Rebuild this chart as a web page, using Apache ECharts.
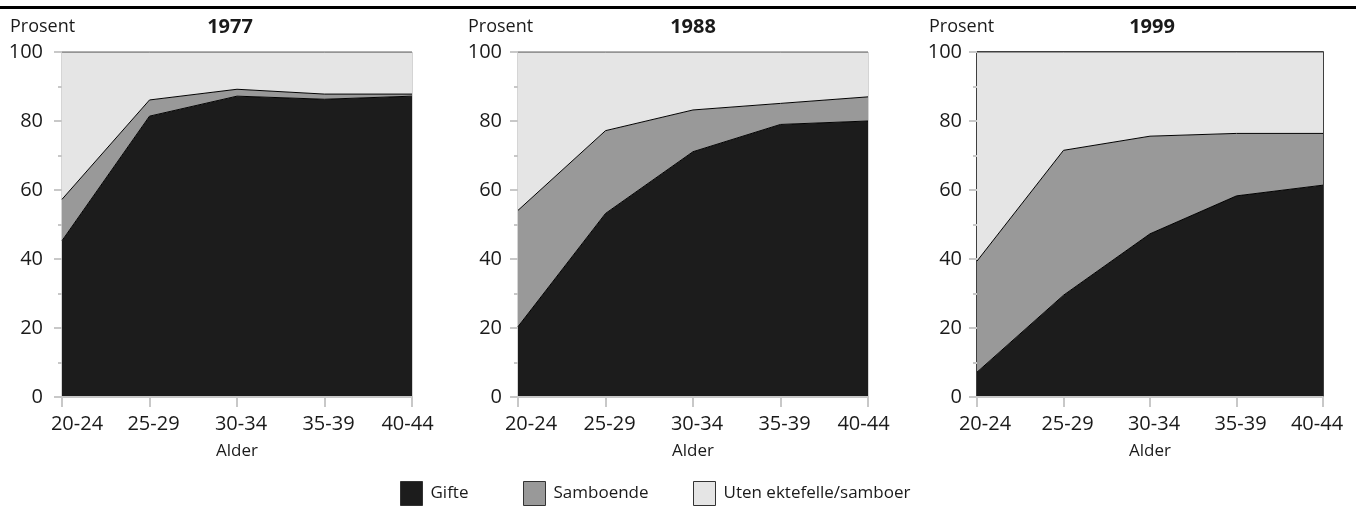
<!DOCTYPE html>
<html>
<head>
<meta charset="utf-8">
<title>Gifte og samboende etter alder</title>
<script src="https://cdn.jsdelivr.net/npm/echarts@6/dist/echarts.min.js"></script>
<style>
  html, body { margin: 0; padding: 0; background: #fff; }
  #chart { width: 1356px; height: 507px; }
</style>
</head>
<body>
<div id="chart"></div>
<script>
  // aldersgrupper (x-akse)
  var ageGroups = ['20-24', '25-29', '30-34', '35-39', '40-44'];
  var years = ['1977', '1988', '1999'];

  // prosent, lest av figuren
  var gifte1977 = [45.3, 81.4, 87.2, 86.3, 87.2];
  var samboende1977 = [12.0, 4.7, 2.0, 1.5, 0.6];
  var uten1977 = [42.7, 13.9, 10.8, 12.2, 12.2];

  var gifte1988 = [20.4, 53.2, 71.1, 79.0, 80.0];
  var samboende1988 = [33.7, 24.0, 12.1, 6.1, 7.0];
  var uten1988 = [45.9, 22.8, 16.8, 14.9, 13.0];

  var gifte1999 = [7.2, 29.5, 47.3, 58.3, 61.4];
  var samboende1999 = [32.2, 42.0, 28.3, 18.1, 15.0];
  var uten1999 = [60.6, 28.5, 24.4, 23.6, 23.6];

  var panels = [
    { gifte: gifte1977, samboende: samboende1977, uten: uten1977 },
    { gifte: gifte1988, samboende: samboende1988, uten: uten1988 },
    { gifte: gifte1999, samboende: samboende1999, uten: uten1999 }
  ];

  var font = 'Open Sans';
  var textColor = '#1a1a1a';
  var tickColor = '#c8c8c8';
  var colors = { gifte: '#1c1c1c', samboende: '#999999', uten: '#e5e5e5' };

  // plassering av de tre diagrammene
  var grids = [
    { left: 62, top: 52, width: 350, height: 345, borderColor: '#aaaaaa', borderWidth: 1 },
    { left: 518, top: 52, width: 350, height: 345, borderColor: '#aaaaaa', borderWidth: 1 },
    { left: 977, top: 52, width: 346, height: 345, borderColor: '#000000', borderWidth: 1.5 }
  ];
  var yLabelMargin = [19, 16, 15];
  var firstPad = [30, 26, 16];
  var lastPad = [9, 9, 12];

  function labelFormatter(value, index) {
    if (index === 0) return '{first|' + value + '}';
    if (index === ageGroups.length - 1) return '{last|' + value + '}';
    return '{mid|' + value + '}';
  }

  var xAxes = [], yAxes = [], series = [], graphics = [];

  // svart strek øverst
  graphics.push({
    type: 'rect', left: 0, top: 6,
    shape: { width: 1356, height: 3 },
    style: { fill: '#000' }
  });

  var prosentX = [10, 468, 929];
  var titleX = [230, 693, 1152];

  panels.forEach(function (p, i) {
    xAxes.push({
      type: 'category',
      gridIndex: i,
      data: ageGroups,
      boundaryGap: false,
      name: 'Alder',
      nameLocation: 'middle',
      nameGap: 46,
      nameTextStyle: { fontFamily: font, fontSize: 17, color: textColor },
      axisLine: { show: true, lineStyle: { color: tickColor, width: 2 } },
      axisTick: { show: true, interval: 0, length: 10, lineStyle: { color: tickColor, width: 2 } },
      axisLabel: {
        interval: 0,
        hideOverlap: false,
        margin: 17,
        fontFamily: font, fontSize: 20, color: textColor,
        formatter: labelFormatter,
        rich: {
          first: { fontFamily: font, fontSize: 20, color: textColor, padding: [0, 0, 0, firstPad[i]] },
          mid: { fontFamily: font, fontSize: 20, color: textColor, padding: [0, 0, 0, 8] },
          last: { fontFamily: font, fontSize: 20, color: textColor, padding: [0, lastPad[i], 0, 0] }
        }
      },
      splitLine: { show: false },
      z: 5
    });
    yAxes.push({
      type: 'value',
      gridIndex: i,
      min: 0, max: 100, interval: 20,
      axisLine: { show: false },
      axisTick: { show: true, length: 8, lineStyle: { color: tickColor, width: 2 } },
      minorTick: { show: true, splitNumber: 2, length: 4, lineStyle: { color: tickColor, width: 2 } },
      axisLabel: { margin: yLabelMargin[i], fontFamily: font, fontSize: 20, color: textColor },
      splitLine: { show: false }
    });

    var stack = 'panel' + i;
    series.push({
      name: 'Gifte', type: 'line', stack: stack,
      xAxisIndex: i, yAxisIndex: i,
      data: p.gifte, symbol: 'none',
      itemStyle: { color: colors.gifte },
      lineStyle: { color: '#000', width: 1 },
      areaStyle: { color: colors.gifte, opacity: 1 }
    });
    series.push({
      name: 'Samboende', type: 'line', stack: stack,
      xAxisIndex: i, yAxisIndex: i,
      data: p.samboende, symbol: 'none',
      itemStyle: { color: colors.samboende },
      lineStyle: { color: '#000', width: 1 },
      areaStyle: { color: colors.samboende, opacity: 1 }
    });
    series.push({
      name: 'Uten ektefelle/samboer', type: 'line', stack: stack,
      xAxisIndex: i, yAxisIndex: i,
      data: p.uten, symbol: 'none',
      itemStyle: { color: colors.uten },
      lineStyle: { color: '#444', width: 1 },
      areaStyle: { color: colors.uten, opacity: 1 }
    });

    graphics.push({
      type: 'text', x: prosentX[i], y: 27,
      style: { text: 'Prosent', font: '18px "Open Sans"', fill: textColor, textAlign: 'left', textVerticalAlign: 'middle' }
    });
    graphics.push({
      type: 'text', x: titleX[i], y: 27,
      style: { text: years[i], font: 'bold 20px "Open Sans"', fill: textColor, textAlign: 'center', textVerticalAlign: 'middle' }
    });
  });

  // tre separate forklaringer, som i originalen
  function legendItem(name, left) {
    return {
      data: [name], left: left, top: 481, padding: 0,
      icon: 'rect', itemWidth: 22, itemHeight: 24,
      itemStyle: { borderColor: '#333', borderWidth: 1 },
      textStyle: { fontFamily: font, fontSize: 17, color: textColor, padding: [0, 0, 0, 3] },
      selectedMode: false
    };
  }

  var myChart = echarts.init(document.getElementById('chart'));
  myChart.setOption({
    animation: false,
    backgroundColor: '#fff',
    grid: grids.map(function (g) {
      return { left: g.left, top: g.top, width: g.width, height: g.height, show: true, backgroundColor: 'transparent', borderColor: g.borderColor, borderWidth: g.borderWidth, containLabel: false };
    }),
    xAxis: xAxes,
    yAxis: yAxes,
    series: series,
    legend: [
      legendItem('Gifte', 400),
      legendItem('Samboende', 523),
      legendItem('Uten ektefelle/samboer', 693)
    ],
    graphic: graphics
  });
</script>
</body>
</html>
